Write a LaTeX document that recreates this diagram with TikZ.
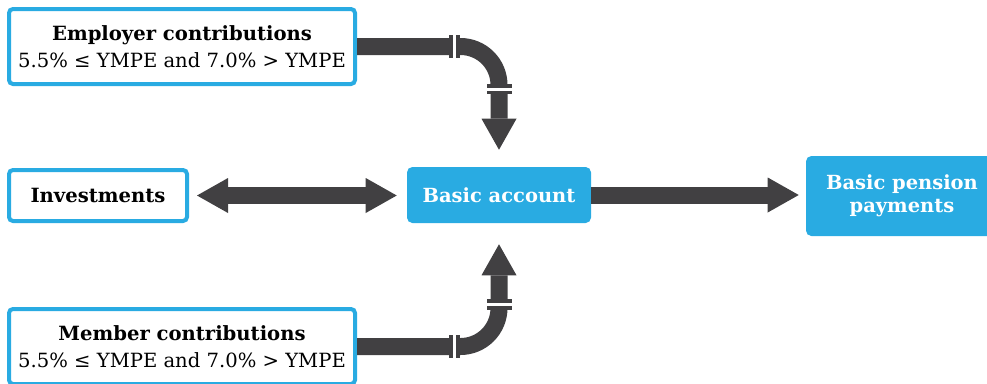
\documentclass[tikz,border=0pt]{standalone}
\usepackage{fontspec}
\setmainfont{DejaVu Serif}
\usetikzlibrary{arrows.meta}
\definecolor{FlowBlue}{HTML}{29ABE2}
\definecolor{PipeGray}{HTML}{414042}
\tikzset{
    source box/.style={
        draw=FlowBlue, line width=3pt, fill=white, rounded corners=3pt,
        inner sep=0pt, align=center, font=\fontsize{14.7}{20.25}\selectfont
    },
    account box/.style={
        fill=FlowBlue, text=white, rounded corners=4pt,
        inner sep=0pt, align=center, font=\bfseries\fontsize{14.6}{17.5}\selectfont
    },
    pipe/.style={draw=PipeGray, line width=12.75pt},
    pipe head/.tip={Triangle[length=23.25pt, width=26.25pt, line width=0pt]},
    pipe arrow/.style={pipe, -pipe head},
    pipe arrows/.style={pipe, pipe head-pipe head},
    flange/.style={fill=PipeGray},
    flange gap/.style={fill=white}
}
\begin{document}
\begin{tikzpicture}[x=0.75pt, y=-0.75pt]

\useasboundingbox (0,0) rectangle (987,383);

% Boxes
\node[source box, minimum width=259.5pt, minimum height=56.25pt] (employer) at (182,46.5)
    {\textbf{Employer contributions}\\5.5\% ≤ YMPE and 7.0\% > YMPE};
\node[source box, minimum width=133.5pt, minimum height=38.25pt] (invest) at (98,195.5)
    {\textbf{Investments}};
\node[source box, minimum width=259.5pt, minimum height=56.25pt] (member) at (182,346.5)
    {\textbf{Member contributions}\\5.5\% ≤ YMPE and 7.0\% > YMPE};
\node[account box, minimum width=138pt, minimum height=42pt] (account) at (499,195)
    {Basic account};
\node[account box, minimum width=144pt, minimum height=60pt] (payments) at (902,196)
    {Basic pension\\payments};

% Pipes into the account
\draw[pipe arrow, rounded corners=28.875pt, shorten >=12.75pt]
    (employer.east) -- (employer.east -| account.north) -- (account.north);
\draw[pipe arrow, rounded corners=28.875pt, shorten >=15.75pt]
    (member.east) -- (member.east -| account.south) -- (account.south);

% Pipe joints, top
\fill[flange] (449,35) rectangle (452.5,58);
\fill[flange gap] (452.5,35) rectangle (456,58);
\fill[flange] (456,35) rectangle (459.5,58);
\fill[flange] (486.5,84) rectangle (511.5,87.5);
\fill[flange gap] (486.5,87.5) rectangle (511.5,90.5);
\fill[flange] (486.5,90.5) rectangle (511.5,94);

% Pipe joints, bottom
\fill[flange] (449,335) rectangle (452.5,358);
\fill[flange gap] (452.5,335) rectangle (456,358);
\fill[flange] (456,335) rectangle (459.5,358);
\fill[flange] (486.5,299) rectangle (511.5,302.5);
\fill[flange gap] (486.5,302.5) rectangle (511.5,306);
\fill[flange] (486.5,306) rectangle (511.5,309.5);

% Investments and payments
\draw[pipe arrows, shorten <=6pt, shorten >=7.5pt]
    (invest.east) -- (invest.east -| account.west);
\draw[pipe arrow, shorten >=5.25pt]
    (account.east) -- (account.east -| payments.west);

\end{tikzpicture}
\end{document}
